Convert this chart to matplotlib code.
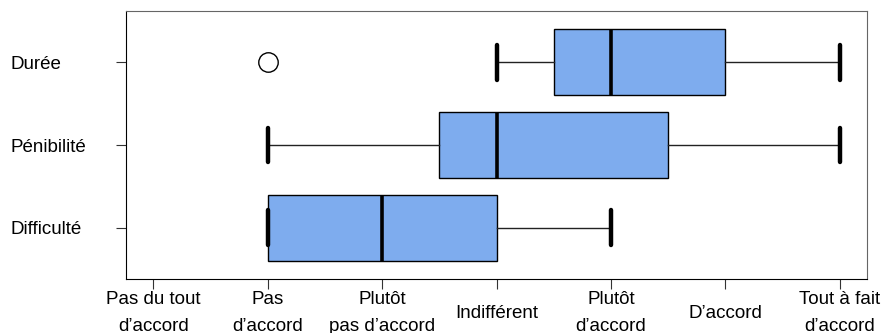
import matplotlib.pyplot as plt

plt.rcParams['font.family'] = ['Liberation Sans', 'DejaVu Sans']

groups = ['Difficulté', 'Pénibilité', 'Durée']
q1 = [2, 3.5, 4.5]
med = [3, 4, 5]
q3 = [4, 5.5, 6]
whislo = [2, 2, 4]
whishi = [5, 7, 7]
fliers = [[], [], [2]]

x_labels = ["Pas du tout\nd’accord", "Pas\nd’accord", "Plutôt\npas d’accord",
            "Indifférent", "Plutôt\nd’accord", "D’accord", "Tout à fait\nd’accord"]

stats = []
for i, g in enumerate(groups):
    stats.append({'label': g, 'q1': q1[i], 'med': med[i], 'q3': q3[i],
                  'whislo': whislo[i], 'whishi': whishi[i], 'fliers': fliers[i]})

fig = plt.figure(figsize=(8.83, 3.33), dpi=100)
ax = fig.add_axes([126 / 883, 54 / 333, 741 / 883, 268 / 333])

ax.bxp(stats, positions=[1, 2, 3], widths=0.8, orientation='horizontal',
       patch_artist=True, capwidths=0.42,
       boxprops=dict(facecolor='#7eacee', edgecolor='black', linewidth=1),
       medianprops=dict(color='black', linewidth=2.6),
       whiskerprops=dict(color='#222222', linewidth=1, linestyle='-'),
       capprops=dict(color='black', linewidth=3.2, solid_capstyle='round'),
       flierprops=dict(marker='o', markerfacecolor='none', markeredgecolor='black',
                       markersize=14, markeredgewidth=1))

ax.set_xlim(1 - 0.24, 7 + 0.24)
ax.set_ylim(0.5 - 0.12, 3.5 + 0.12)

ax.set_xticks(range(1, 8))
ax.set_xticklabels(x_labels, fontsize=13.5, va='center', linespacing=1.7)
ax.tick_params(axis='x', length=7, pad=17.5, color='#333333')

ax.set_yticks([1, 2, 3])
ax.set_yticklabels(groups, fontsize=13.5, ha='left')
ax.tick_params(axis='y', length=7, pad=76, color='#333333')

for s in ['top', 'right']:
    ax.spines[s].set_color('#666666')
for s in ['left', 'bottom']:
    ax.spines[s].set_color('black')

fig.savefig('out.png', dpi=100)
